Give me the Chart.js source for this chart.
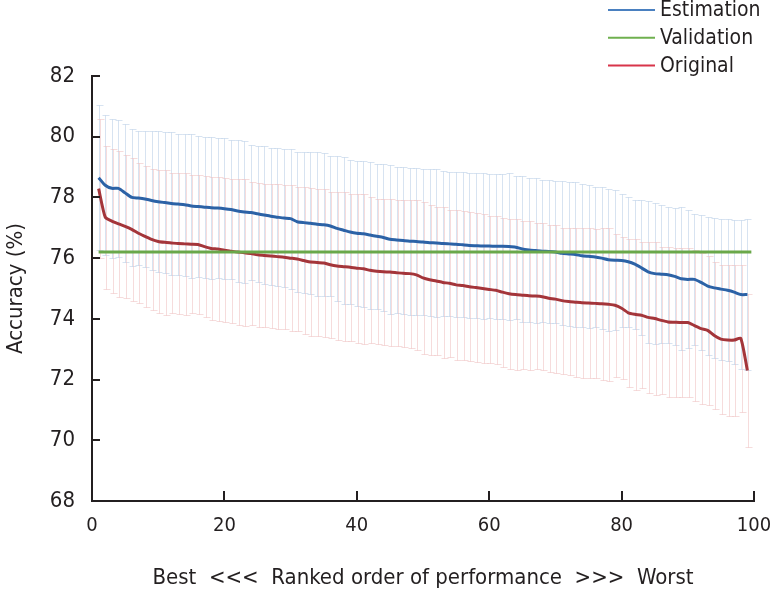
<!DOCTYPE html>
<html>
<head>
<meta charset="utf-8">
<script src="https://cdn.jsdelivr.net/npm/chart.js@4.4.0/dist/chart.umd.min.js"></script>
<style>
  html, body { margin: 0; padding: 0; background: #fff; }
  #wrap { width: 770px; height: 591px; }
</style>
</head>
<body>
<div id="wrap"><canvas id="chart" width="770" height="591"></canvas></div>
<script>
// ---- data ----
const ranks = [
  1, 2, 3, 4, 5, 6, 7, 8, 9, 10, 11, 12, 13, 14, 15, 16, 17, 18, 19, 20,
  21, 22, 23, 24, 25, 26, 27, 28, 29, 30, 31, 32, 33, 34, 35, 36, 37, 38, 39, 40,
  41, 42, 43, 44, 45, 46, 47, 48, 49, 50, 51, 52, 53, 54, 55, 56, 57, 58, 59, 60,
  61, 62, 63, 64, 65, 66, 67, 68, 69, 70, 71, 72, 73, 74, 75, 76, 77, 78, 79, 80,
  81, 82, 83, 84, 85, 86, 87, 88, 89, 90, 91, 92, 93, 94, 95, 96, 97, 98, 99
];

const estimationAcc = [
  78.65, 78.40, 78.30, 78.30, 78.15, 78.00, 77.98, 77.95, 77.90, 77.86,
  77.83, 77.80, 77.78, 77.76, 77.72, 77.70, 77.68, 77.66, 77.65, 77.63,
  77.60, 77.55, 77.52, 77.50, 77.46, 77.42, 77.38, 77.35, 77.32, 77.30,
  77.20, 77.17, 77.15, 77.12, 77.10, 77.06, 76.98, 76.92, 76.86, 76.82,
  76.80, 76.76, 76.72, 76.68, 76.62, 76.60, 76.58, 76.56, 76.55, 76.53,
  76.51, 76.50, 76.48, 76.47, 76.46, 76.44, 76.42, 76.41, 76.40, 76.40,
  76.39, 76.39, 76.38, 76.36, 76.30, 76.27, 76.25, 76.23, 76.22, 76.20,
  76.16, 76.14, 76.12, 76.08, 76.06, 76.04, 76.00, 75.95, 75.93, 75.92,
  75.88, 75.80, 75.68, 75.55, 75.49, 75.47, 75.45, 75.40, 75.32, 75.30,
  75.30, 75.20, 75.08, 75.02, 74.98, 74.94, 74.88, 74.80, 74.80
];
const estimationErr = [
  2.38, 2.30, 2.30, 2.25, 2.27, 2.25, 2.22, 2.23, 2.28, 2.32,
  2.32, 2.35, 2.32, 2.34, 2.38, 2.32, 2.32, 2.34, 2.32, 2.32,
  2.30, 2.33, 2.34, 2.22, 2.24, 2.26, 2.25, 2.27, 2.28, 2.30,
  2.30, 2.33, 2.34, 2.36, 2.35, 2.32, 2.38, 2.42, 2.36, 2.38,
  2.40, 2.42, 2.38, 2.42, 2.46, 2.40, 2.41, 2.42, 2.41, 2.39,
  2.43, 2.43, 2.38, 2.38, 2.39, 2.39, 2.38, 2.39, 2.39, 2.38,
  2.39, 2.38, 2.42, 2.36, 2.40, 2.38, 2.39, 2.35, 2.35, 2.35,
  2.37, 2.38, 2.38, 2.35, 2.36, 2.31, 2.33, 2.34, 2.30, 2.20,
  2.15, 2.12, 2.22, 2.33, 2.32, 2.27, 2.23, 2.26, 2.35, 2.27,
  2.15, 2.23, 2.27, 2.31, 2.32, 2.34, 2.38, 2.45, 2.50
];

const originalAcc = [
  78.29, 77.35, 77.22, 77.13, 77.05, 76.95, 76.82, 76.72, 76.62, 76.55,
  76.52, 76.50, 76.48, 76.47, 76.46, 76.45, 76.38, 76.32, 76.30, 76.26,
  76.23, 76.20, 76.18, 76.15, 76.11, 76.09, 76.07, 76.05, 76.03, 76.00,
  75.97, 75.92, 75.87, 75.86, 75.84, 75.78, 75.74, 75.72, 75.70, 75.67,
  75.65, 75.60, 75.57, 75.55, 75.54, 75.52, 75.50, 75.49, 75.45, 75.35,
  75.29, 75.25, 75.20, 75.17, 75.12, 75.10, 75.06, 75.03, 75.00, 74.97,
  74.94, 74.88, 74.83, 74.80, 74.78, 74.76, 74.75, 74.73, 74.68, 74.65,
  74.60, 74.57, 74.55, 74.53, 74.52, 74.51, 74.50, 74.48, 74.45, 74.35,
  74.20, 74.15, 74.12, 74.05, 74.01, 73.95, 73.90, 73.89, 73.88, 73.88,
  73.78, 73.68, 73.62, 73.45, 73.33, 73.30, 73.30, 73.36, 72.30
];
const originalErr = [
  2.30, 2.36, 2.37, 2.40, 2.35, 2.35, 2.30, 2.32, 2.33, 2.35,
  2.38, 2.32, 2.32, 2.33, 2.28, 2.28, 2.33, 2.35, 2.37, 2.38,
  2.38, 2.40, 2.42, 2.35, 2.38, 2.36, 2.38, 2.40, 2.37, 2.40,
  2.37, 2.42, 2.45, 2.43, 2.45, 2.40, 2.44, 2.46, 2.42, 2.45,
  2.47, 2.40, 2.39, 2.41, 2.42, 2.41, 2.43, 2.44, 2.46, 2.50,
  2.47, 2.43, 2.48, 2.43, 2.48, 2.45, 2.46, 2.45, 2.46, 2.41,
  2.44, 2.45, 2.47, 2.50, 2.44, 2.46, 2.41, 2.43, 2.42, 2.45,
  2.40, 2.43, 2.45, 2.47, 2.48, 2.46, 2.50, 2.52, 2.35, 2.34,
  2.44, 2.49, 2.41, 2.48, 2.52, 2.41, 2.46, 2.45, 2.46, 2.46,
  2.48, 2.50, 2.45, 2.42, 2.46, 2.49, 2.49, 2.43, 2.52
];

// validation accuracy is flat across all ranks
const validationAcc = 76.2;
const validationRange = [1, 99.6];

const xTicks = [0, 20, 40, 60, 80, 100];
const yTicks = [68, 70, 72, 74, 76, 78, 80, 82];

const FONT = "'Liberation Sans Narrow', 'DejaVu Sans Condensed', 'Arial Narrow', sans-serif";
const INK = '#231f20';

function toPoints(values) {
  return ranks.map((r, i) => ({ x: r, y: values[i] }));
}

// ---- plugins ----
// vertical error bars with caps, drawn under the lines
const errorBars = {
  id: 'errorBars',
  beforeDatasetsDraw(chart) {
    const { ctx, scales: { x, y } } = chart;
    ctx.save();
    ctx.lineWidth = 1;
    chart.data.datasets.forEach(ds => {
      if (!ds.errors) return;
      ctx.strokeStyle = ds.errorColor;
      ds.data.forEach((p, i) => {
        const px = Math.round(x.getPixelForValue(p.x)) + ds.errorShift + 0.5;
        const hi = Math.round(y.getPixelForValue(p.y + ds.errors[i])) + 0.5;
        const lo = Math.round(y.getPixelForValue(p.y - ds.errors[i])) + 0.5;
        ctx.beginPath();
        ctx.moveTo(px, hi); ctx.lineTo(px, lo);
        ctx.moveTo(px - 3, hi); ctx.lineTo(px + 4, hi);
        ctx.moveTo(px - 3, lo); ctx.lineTo(px + 4, lo);
        ctx.stroke();
      });
    });
    ctx.restore();
  }
};

// tick marks pointing into the plot area
const innerTicks = {
  id: 'innerTicks',
  afterDraw(chart) {
    const { ctx, chartArea: a, scales: { x, y } } = chart;
    ctx.save();
    ctx.strokeStyle = INK;
    ctx.lineWidth = 2;
    ctx.beginPath();
    y.ticks.forEach(t => {
      const py = Math.round(y.getPixelForValue(t.value));
      ctx.moveTo(a.left, py); ctx.lineTo(a.left + 8, py);
    });
    x.ticks.forEach(t => {
      const px = Math.round(x.getPixelForValue(t.value));
      ctx.moveTo(px, a.bottom); ctx.lineTo(px, a.bottom - 10);
    });
    ctx.stroke();
    ctx.restore();
  }
};

// legend in the top-right corner
const cornerLegend = {
  id: 'cornerLegend',
  afterDraw(chart) {
    const { ctx } = chart;
    ctx.save();
    ctx.font = '21px ' + FONT;
    ctx.textBaseline = 'middle';
    chart.data.datasets.forEach((ds, k) => {
      const cy = 10 + k * 27.7;
      ctx.strokeStyle = ds.legendColor;
      ctx.lineWidth = 2;
      ctx.beginPath();
      ctx.moveTo(608, cy); ctx.lineTo(655, cy);
      ctx.stroke();
      ctx.fillStyle = INK;
      ctx.fillText(ds.label, 660, cy + 1);
    });
    ctx.restore();
  }
};

// ---- chart ----
new Chart(document.getElementById('chart'), {
  type: 'line',
  data: {
    datasets: [
      {
        label: 'Estimation',
        data: toPoints(estimationAcc),
        errors: estimationErr,
        errorColor: 'rgba(175, 200, 228, 0.5)',
        errorShift: 0,
        borderColor: '#2c62a6',
        legendColor: '#4a80c0',
        borderWidth: 3,
        pointRadius: 0,
        tension: 0.2,
        order: 2
      },
      {
        label: 'Validation',
        data: validationRange.map(r => ({ x: r, y: validationAcc })),
        borderColor: '#6aa84a',
        legendColor: '#6fb04f',
        borderWidth: 3,
        pointRadius: 0,
        order: 0
      },
      {
        label: 'Original',
        data: toPoints(originalAcc),
        errors: originalErr,
        errorColor: 'rgba(238, 185, 185, 0.5)',
        errorShift: 1,
        borderColor: '#a4353a',
        legendColor: '#d8354a',
        borderWidth: 3,
        pointRadius: 0,
        tension: 0.2,
        order: 1
      }
    ]
  },
  options: {
    responsive: false,
    animation: false,
    devicePixelRatio: 1,
    layout: { padding: { top: 76, right: 16, bottom: 0, left: 0 } },
    plugins: {
      legend: { display: false },
      tooltip: { enabled: false }
    },
    scales: {
      x: {
        type: 'linear',
        min: 0, max: 100,
        afterFit: s => { s.height = 90; s.paddingLeft = 0; s.paddingRight = 0; },
        afterBuildTicks: s => { s.ticks = xTicks.map(v => ({ value: v })); },
        grid: { display: true, drawOnChartArea: false, drawTicks: false },
        border: { display: true, color: INK, width: 2 },
        ticks: { color: INK, padding: 13, maxRotation: 0, font: { family: FONT, size: 20 } },
        title: {
          display: true,
          text: 'Best  <<<  Ranked order of performance  >>>  Worst',
          color: INK,
          padding: { top: 0, bottom: 0 },
          font: { family: FONT, size: 22 }
        }
      },
      y: {
        min: 68, max: 82,
        afterFit: s => { s.width = 92; s.paddingTop = 0; s.paddingBottom = 0; },
        afterBuildTicks: s => { s.ticks = yTicks.map(v => ({ value: v })); },
        grid: { display: true, drawOnChartArea: false, drawTicks: false },
        border: { display: true, color: INK, width: 2 },
        ticks: { color: INK, padding: 17, font: { family: FONT, size: 22 } },
        title: {
          display: true,
          text: 'Accuracy (%)',
          color: INK,
          padding: { top: 3, bottom: 0 },
          font: { family: FONT, size: 22 }
        }
      }
    }
  },
  plugins: [errorBars, innerTicks, cornerLegend]
});
</script>
</body>
</html>
